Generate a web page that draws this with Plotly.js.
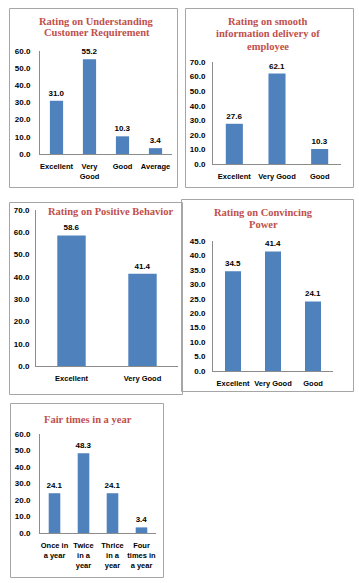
<!DOCTYPE html>
<html>
<head>
<meta charset="utf-8">
<script src="https://cdn.plot.ly/plotly-3.0.1.min.js"></script>
<style>html,body{margin:0;padding:0;background:#fff;}#chart{width:359px;height:583px;}</style>
</head>
<body>
<div id="chart"></div>
<script>
// ---- Data ----
const cat1 = ['Excellent', 'Very Good', 'Good', 'Average'];
const tick1 = ['Excellent', 'Very<br>Good', 'Good', 'Average'];
const val1 = [31.0, 55.2, 10.3, 3.4];
const title1 = ['Rating on Understanding', 'Customer Requirement'];

const cat2 = ['Excellent', 'Very Good', 'Good'];
const tick2 = ['Excellent', 'Very Good', 'Good'];
const val2 = [27.6, 62.1, 10.3];
const title2 = ['Rating on smooth', 'information delivery of', 'employee'];

const cat3 = ['Excellent', 'Very Good'];
const tick3 = ['Excellent', 'Very Good'];
const val3 = [58.6, 41.4];
const title3 = ['Rating on Positive Behavior'];

const cat4 = ['Excellent', 'Very Good', 'Good'];
const tick4 = ['Excellent', 'Very Good', 'Good'];
const val4 = [34.5, 41.4, 24.1];
const title4 = ['Rating on Convincing', 'Power'];

const cat5 = ['Once in a year', 'Twice in a year', 'Thrice in a year', 'Four times in a year'];
const tick5 = ['Once in<br>a year', 'Twice<br>in a<br>year', 'Thrice<br>in a<br>year', 'Four<br>times in<br>a year'];
const val5 = [24.1, 48.3, 24.1, 3.4];
const title5 = ['Fair times in a year'];

// ---- Layout geometry (pixels) ----
const W = 359, H = 583;
const px = x => x / W;
const py = y => 1 - y / H;

const panels = [
  {cat: cat1, tick: tick1, val: val1, title: title1, x0: 40, x1: 172, yTop: 51, yZero: 154, max: 60, dtick: 10, box: [9, 8, 177, 187], tx: 97, ty: [22, 33], sd: 7},
  {cat: cat2, tick: tick2, val: val2, title: title2, x0: 213, x1: 341, yTop: 62, yZero: 164, max: 70, dtick: 10, box: [185, 8, 353, 187], tx: 268, ty: [22, 33.5, 46.5], sd: 5},
  {cat: cat3, tick: tick3, val: val3, title: title3, x0: 36, x1: 178, yTop: 210, yZero: 366, max: 70, dtick: 10, box: [9, 202, 182, 394], tx: 110, ty: [211], sd: 4},
  {cat: cat4, tick: tick4, val: val4, title: title4, x0: 213, x1: 333, yTop: 241, yZero: 371, max: 45, dtick: 5, box: [181, 199, 353, 391], tx: 263, ty: [212, 225], sd: 5},
  {cat: cat5, tick: tick5, val: val5, title: title5, x0: 40, x1: 156, yTop: 434, yZero: 533, max: 60, dtick: 10, box: [10, 403, 163, 577], tx: 88, ty: [419], sd: 7}
];

const numFont = {family: 'Liberation Sans, Arial, sans-serif', size: 8, color: '#000', weight: 'bold'};
const catFont = {family: 'Liberation Sans, Arial, sans-serif', size: 7.5, color: '#000', weight: 'bold'};
const titleFont = {family: 'Liberation Serif, Times New Roman, serif', size: 10.5, color: '#c0504d', weight: 'bold'};

const data = [];
const layout = {
  width: W, height: H,
  margin: {l: 0, r: 0, t: 0, b: 0},
  paper_bgcolor: '#fff', plot_bgcolor: 'rgba(0,0,0,0)',
  showlegend: false,
  bargap: 0.6,
  shapes: [], annotations: []
};

panels.forEach((p, i) => {
  const n = i + 1;
  const xa = n === 1 ? 'x' : 'x' + n;
  const ya = n === 1 ? 'y' : 'y' + n;
  data.push({
    type: 'bar', x: p.cat, y: p.val, xaxis: xa, yaxis: ya,
    marker: {color: '#4f81bd'},
    text: p.val.map(v => v.toFixed(1)),
    textposition: 'outside', cliponaxis: false, constraintext: 'none',
    textfont: numFont, outsidetextfont: numFont, hoverinfo: 'none'
  });
  layout['xaxis' + (n === 1 ? '' : n)] = {
    domain: [px(p.x0), px(p.x1)], anchor: ya,
    showline: true, linecolor: '#8c8c8c', linewidth: 1,
    ticks: '', showgrid: false, zeroline: false,
    tickmode: 'array', tickvals: p.cat, ticktext: p.tick,
    tickfont: catFont, tickangle: 0, ticklabelstandoff: 5,
    fixedrange: true
  };
  layout['yaxis' + (n === 1 ? '' : n)] = {
    domain: [py(p.yZero), py(p.yTop)], anchor: xa,
    range: [0, p.max], dtick: p.dtick, tick0: 0, tickformat: '.1f',
    showline: true, linecolor: '#8c8c8c', linewidth: 1,
    ticks: '', showgrid: false, zeroline: false,
    tickfont: numFont, ticklabelstandoff: p.sd,
    fixedrange: true
  };
  layout.shapes.push({
    type: 'rect', xref: 'paper', yref: 'paper',
    x0: px(p.box[0] + 0.5), x1: px(p.box[2] + 0.5), y0: py(p.box[1] + 0.5), y1: py(p.box[3] + 0.5),
    line: {color: '#a6a6a6', width: 1}, fillcolor: 'rgba(0,0,0,0)', layer: 'below'
  });
  p.title.forEach((t, k) => {
    layout.annotations.push({
      xref: 'paper', yref: 'paper', x: px(p.tx), y: py(p.ty[k]),
      xanchor: 'center', yanchor: 'middle', showarrow: false,
      text: t, font: titleFont
    });
  });
});

Plotly.newPlot('chart', data, layout, {staticPlot: true, displayModeBar: false});
</script>
</body>
</html>
